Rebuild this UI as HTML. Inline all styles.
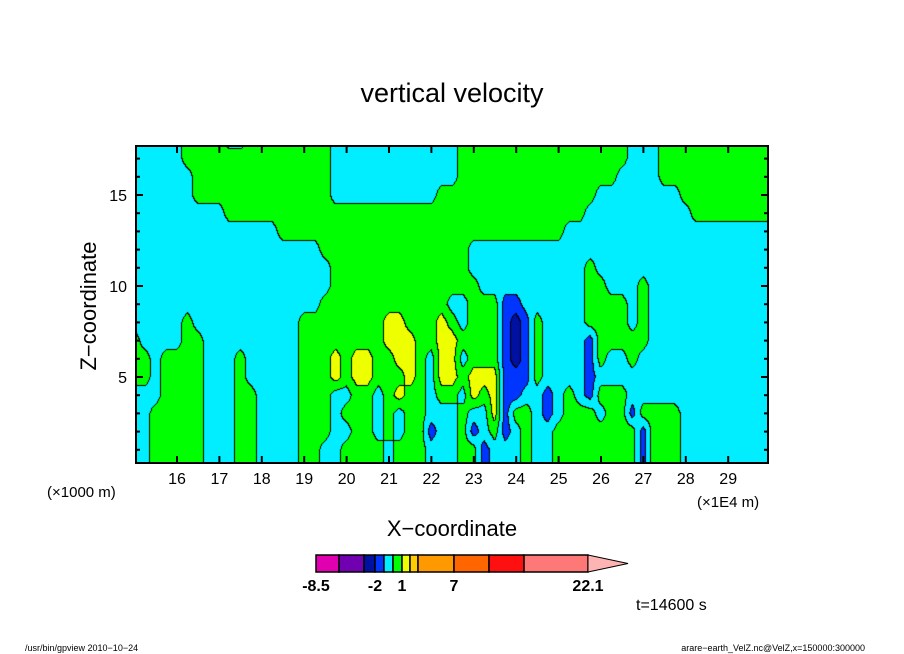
<!DOCTYPE html>
<html><head><meta charset="utf-8">
<style>
body{margin:0;background:#fff;width:904px;height:654px;overflow:hidden;position:relative;font-family:"Liberation Sans",sans-serif}
#field{position:absolute;left:136px;top:146px}
svg{position:absolute;left:0;top:0}
</style></head>
<body>
<canvas id="field" width="632" height="317"></canvas>
<svg id="ov" width="904" height="654"></svg>
<script>
// grid: x from 15 step 0.25 (61 cols), z from 18 down to 0 step 1 (19 rows); run-length coded classes
const xStart = 15, xStep = 0.25;
const zTop = 18, zStep = 1;
const gridRuns = [
"c5 g4 c2 g8 c12 g16 c3 g11",
"c5 g14 c12 g16 c3 g11",
"c6 g13 c12 g15 c4 g11",
"c6 g13 c10 g15 c8 g9",
"c9 g34 c10 g8",
"c14 g27 c20",
"c18 g14 c29",
"c19 g13 c11 g1 c17",
"c19 g14 c10 g2 c3 g1 c12",
"c18 g12 c2 g3 b2 c6 g4 c1 g1 c12",
"c5 g1 c10 g8 y2 g3 y1 g1 c1 g3 b1 d1 b1 g1 c4 g4 c1 g1 c12",
"g1 c4 g2 c9 g8 y3 g2 y2 g4 b1 d1 b1 g1 c4 b1 g3 g2 c12",
"g2 c1 g4 c3 g1 c5 g3 y1 g1 y2 g1 g1 y2 g1 c1 y2 c1 g3 b1 d1 b1 g1 c4 b1 g1 c2 g1 c13",
"g2 c1 g4 c3 g1 c5 g3 y1 g1 y2 g2 g1 y1 g1 c1 y2 g1 y3 b3 g1 c4 b1 c17",
"c3 g4 c3 g2 c4 g3 c2 g2 c1 g1 y1 g2 c1 g2 c1 y1 g1 y1 b2 c2 b1 c1 g1 c1 b1 g3 c14",
"c2 g5 c3 g2 c4 g3 c1 g3 c1 g1 c1 g2 c3 g1 c2 y1 b1 g2 c1 b1 c1 g3 c1 g2 b1 g4 c9",
"c2 g5 c3 g2 c4 g3 c2 g2 c1 g1 c1 g2 b1 c2 g1 b1 c1 g1 b1 c1 g1 c2 g8 b1 g3 c9",
"c2 g5 c3 g2 c4 g2 c2 g4 c1 g3 c3 g2 b1 c1 c2 g1 c2 g8 b1 g3 c9",
"c2 g5 c3 g2 c4 g2 c2 g4 c1 g3 c3 g2 b1 c1 c2 g1 c2 g8 b1 g3 c9"
];
const levelBounds = [-3, -2, -1, 0, 1, 2, 3];
const levelColors = ["#0010a0","#0010a0","#0034ff","#00eeff","#00ff00","#eeff00","#ffcc00","#ff9900"];
const codeValues = {c:-0.5, g:0.5, y:1.5, b:-1.5, d:-2.5, o:2.5};
// colorbar
const cbColors = ["#e000b0","#7000b0","#0010a0","#0034ff","#00eeff","#00ff00","#eeff00","#ffcc00","#ff9900","#ff6600","#ff1010","#ff7878"];
const cbWidths = [23,25,11,9,9,9,8,8,36,35,35,64];
const cbTickLabels = ["-8.5","-2","1","7","22.1"];
const cbTickIndex = [0,3,6,9,12];
const xTicks = [16,17,18,19,20,21,22,23,24,25,26,27,28,29];
const yTicks = [5,10,15];

function xScale(v){return 134.6 + (v-15)*42.4;}
function yScale(v){return 468 - 18.2*v;}
function xInv(p){return 15 + (p-134.6)/42.4;}
function yInv(p){return (468-p)/18.2;}

function decode(s){const out=[];s.trim().split(/\s+/).forEach(t=>{const ch=t[0],n=parseInt(t.slice(1));for(let i=0;i<n;i++)out.push(codeValues[ch]);});return out;}
const grid = gridRuns.map(decode);
function val(X,Z){
  let fj=(X-xStart)/xStep, fi=(zTop-Z)/zStep;
  const nr=grid.length;
  fi=Math.max(0,Math.min(nr-1.0001,fi));
  let j0=Math.floor(fj), i0=Math.floor(fi);
  const row0=grid[i0], row1=grid[i0+1];
  j0=Math.max(0,Math.min(59,j0)); let tx=Math.max(0,Math.min(1,fj-j0)), ty=fi-i0;
  const g=(r,j)=> (r[j]!==undefined? r[j] : r[r.length-1]);
  const a=g(row0,j0)*(1-tx)+g(row0,j0+1)*tx;
  const b=g(row1,j0)*(1-tx)+g(row1,j0+1)*tx;
  return a*(1-ty)+b*ty;
}
function cls(v){let k=0;while(k<levelBounds.length&&v>=levelBounds[k])k++;return k;}
const cv=document.getElementById('field');const ctx=cv.getContext('2d');
const W=cv.width,H=cv.height;const img=ctx.createImageData(W,H);
const C=new Int8Array(W*H);
for(let y=0;y<H;y++)for(let x=0;x<W;x++){C[y*W+x]=cls(val(xInv(136+x+0.5),yInv(146+y+0.5)));}
function hex(h){return [parseInt(h.substr(1,2),16),parseInt(h.substr(3,2),16),parseInt(h.substr(5,2),16)];}
const pal=levelColors.map(hex);
for(let y=0;y<H;y++)for(let x=0;x<W;x++){
  const k=C[y*W+x];let col=pal[k];
  if((x+1<W&&C[y*W+x+1]!==k)||(y+1<H&&C[(y+1)*W+x]!==k)) col=[0,0,0];
  const o=(y*W+x)*4;img.data[o]=col[0];img.data[o+1]=col[1];img.data[o+2]=col[2];img.data[o+3]=255;
}
ctx.putImageData(img,0,0);

const NS="http://www.w3.org/2000/svg";const svg=document.getElementById('ov');
function mk(tag,attrs,parent){const e=document.createElementNS(NS,tag);for(const k in attrs)e.setAttribute(k,attrs[k]);(parent||svg).appendChild(e);return e;}
const frame=mk('rect',{x:136,y:146,width:632,height:317,fill:'none',stroke:'#000','stroke-width':2});


for(let v=15;v<=29;v++){
  const x=xScale(v);if(x<137)continue;
  const t1=mk('line',{x1:x,x2:x,y1:463,y2:456,stroke:'#000','stroke-width':2});
  
  
  const t2=mk('line',{x1:x,x2:x,y1:146,y2:153,stroke:'#000','stroke-width':2});
  
  
}
xTicks.forEach(v=>{
  const t=mk('text',{x:xScale(v),y:484,'text-anchor':'middle','font-size':16,fill:'#000'});t.textContent=v;
  
  
});
for(let v=1;v<=17;v++){
  const y=yScale(v);const L=(v%5===0)?7:4;
  const a=mk('line',{x1:136,x2:136+L,y1:y,y2:y,stroke:'#000','stroke-width':2});
  
  
  const b=mk('line',{x1:768,x2:768-L,y1:y,y2:y,stroke:'#000','stroke-width':2});
  
  
}
yTicks.forEach(v=>{
  const t=mk('text',{x:127,y:yScale(v)+6,'text-anchor':'end','font-size':16,fill:'#000'});t.textContent=v;
  
  
});
let cx=316;
cbColors.forEach((c,i)=>{
  const r=mk('rect',{x:cx,y:555,width:cbWidths[i],height:17,fill:c,stroke:'#000','stroke-width':1.5});
  
  
  cx+=cbWidths[i];
});
const arrow=mk('polygon',{points:`${cx},555 ${cx},572 628,563.5`,fill:'#ffb4b4',stroke:'#000','stroke-width':1});


const edges=[316];cbWidths.reduce((s,w)=>{edges.push(s+w);return s+w;},316);
cbTickLabels.forEach((lab,i)=>{
  const t=mk('text',{x:edges[cbTickIndex[i]],y:591,'text-anchor':'middle','font-size':16,'font-weight':'bold',fill:'#000'});t.textContent=lab;
  
  
});
</script>
<svg width="904" height="654" style="pointer-events:none">
<text x="452" y="102" text-anchor="middle" font-size="27" font-family="Liberation Sans">vertical velocity</text>
<text x="0" y="0" transform="translate(96,306) rotate(-90)" text-anchor="middle" font-size="22" font-family="Liberation Sans">Z−coordinate</text>
<text x="452" y="536" text-anchor="middle" font-size="22" font-family="Liberation Sans">X−coordinate</text>
<text x="47" y="497" font-size="15" font-family="Liberation Sans">(×1000 m)</text>
<text x="697" y="507" font-size="15" font-family="Liberation Sans">(×1E4 m)</text>
<text x="636" y="610" font-size="16" font-family="Liberation Sans">t=14600 s</text>
<text x="25" y="651" font-size="9" font-family="Liberation Sans">/usr/bin/gpview   2010−10−24</text>
<text x="865" y="651" text-anchor="end" font-size="9" font-family="Liberation Sans">arare−earth_VelZ.nc@VelZ,x=150000:300000</text>
</svg>
</body></html>
